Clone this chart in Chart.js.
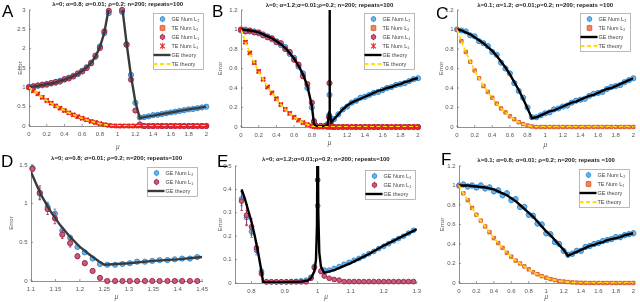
<!DOCTYPE html>
<html>
<head>
<meta charset="utf-8">
<script src="https://cdn.jsdelivr.net/npm/chart.js@4.4.1/dist/chart.umd.min.js"></script>
<style>
  html, body { margin: 0; padding: 0; background: #fff; }
  #fig { position: relative; width: 640px; height: 302px; overflow: hidden; }
  #fig canvas { position: absolute; }
  .tag { position: absolute; font: 17px 'Liberation Sans', Arial, sans-serif; line-height: 17px; color: #000; }
</style>
</head>
<body>
<div id="fig">
  <canvas id="chartA"></canvas>
  <canvas id="chartB"></canvas>
  <canvas id="chartC"></canvas>
  <canvas id="chartD"></canvas>
  <canvas id="chartE"></canvas>
  <canvas id="chartF"></canvas>
  <div class="tag" style="left:2px;top:3px">A</div>
  <div class="tag" style="left:212px;top:3px">B</div>
  <div class="tag" style="left:436px;top:5px">C</div>
  <div class="tag" style="left:1px;top:153px">D</div>
  <div class="tag" style="left:217px;top:153px">E</div>
  <div class="tag" style="left:441px;top:151px">F</div>
</div>
<script>
// ---------- data ----------
const muGrid = [0,0.05,0.1,0.15,0.2,0.25,0.3,0.35,0.4,0.45,0.5,0.55,0.6,0.65,0.7,0.75,0.8,0.85,0.9,0.95,1,1.05,1.1,1.15,1.2,1.25,1.3,1.35,1.4,1.45,1.5,1.55,1.6,1.65,1.7,1.75,1.8,1.85,1.9,1.95,2];

// A: lambda=0, alpha=0.8
const geTheoryA = [1,1.02,1.04,1.06,1.08,1.1,1.13,1.16,1.2,1.24,1.29,1.35,1.42,1.51,1.63,1.8,2.04,2.42,3.05,5,null,3.1,2.15,1.3,0.62,0.2,0.23,0.25,0.27,0.29,0.31,0.33,0.35,0.37,0.39,0.41,0.43,0.45,0.46,0.48,0.5];
const teTheoryA = [1,0.91,0.83,0.74,0.66,0.59,0.52,0.46,0.4,0.34,0.29,0.24,0.2,0.16,0.12,0.09,0.06,0.035,0.015,0.004,0,0,0,0,0,0,0,0,0,0,0,0,0,0,0,0,0,0,0,0,0];
const geNumL2A = [1.01,1.03,1.04,1.05,1.09,1.1,1.12,1.17,1.2,1.25,1.3,1.34,1.43,1.52,1.64,1.79,2.06,2.4,2.92,null,null,2.95,2.12,1.32,0.6,0.22,0.23,0.25,0.28,0.29,0.31,0.33,0.35,0.37,0.39,0.41,0.43,0.44,0.46,0.48,0.5];
const geNumL1A = [1,1.02,1.05,1.07,1.07,1.11,1.14,1.15,1.21,1.23,1.28,1.36,1.41,1.5,1.62,1.82,2.02,2.45,2.98,null,null,3,2.1,1.2,0.4,0.04,0,0,0,0,0,0,0,0,0,0,0,0,0,0,0];

// B: lambda=0, alpha=1.2
const muB = [0,0.05,0.1,0.15,0.2,0.25,0.3,0.35,0.4,0.45,0.5,0.55,0.6,0.65,0.7,0.75,0.8,0.825,0.85,0.9,0.95,0.98,0.995,1,1.005,1.02,1.05,1.1,1.15,1.2,1.25,1.3,1.35,1.4,1.45,1.5,1.55,1.6,1.65,1.7,1.75,1.8,1.85,1.9,1.95,2];
const geTheoryB = [1,0.995,0.99,0.98,0.97,0.95,0.93,0.91,0.88,0.85,0.81,0.76,0.7,0.63,0.54,0.42,0.22,0.03,0.005,0.005,0.008,0.02,0.15,1.5,0.15,0.05,0.08,0.13,0.18,0.22,0.25,0.27,0.29,0.31,0.33,0.35,0.37,0.38,0.4,0.41,0.43,0.44,0.46,0.47,0.49,0.5];
const teTheoryB = [1,0.87,0.76,0.66,0.57,0.49,0.41,0.35,0.29,0.23,0.18,0.14,0.1,0.07,0.045,0.025,0.01,0.004,0,0,0,0,0,0,0,0,0,0,0,0,0,0,0,0,0,0,0,0,0,0,0,0,0,0,0,0];
const geNumL2B = [0.99,1,0.98,0.98,0.96,0.95,0.93,0.9,0.88,0.84,0.82,0.75,0.71,0.62,0.55,0.4,0.2,0.05,0.01,0.01,0.01,0.03,0.12,0.33,0.1,0.05,0.08,0.13,0.18,0.21,0.25,0.27,0.3,0.31,0.33,0.35,0.36,0.38,0.4,0.41,0.43,0.44,0.45,0.47,0.49,0.5];
const geNumL1B = [1,0.98,0.99,0.97,0.97,0.94,0.92,0.91,0.87,0.86,0.8,0.77,0.69,0.64,0.52,0.44,0.25,0.06,0.01,0.01,0.01,0.02,0.1,0.45,0.05,0.01,0,0,0,0,0,0,0,0,0,0,0,0,0,0,0,0,0,0,0,0];

// C: lambda=0.1, alpha=1.2
const geTheoryC = [1,0.99,0.97,0.95,0.92,0.89,0.86,0.82,0.78,0.73,0.67,0.61,0.54,0.46,0.38,0.29,0.19,0.09,0.1,0.12,0.14,0.16,0.17,0.19,0.21,0.23,0.25,0.26,0.28,0.3,0.32,0.33,0.35,0.37,0.39,0.4,0.42,0.44,0.46,0.48,0.5];
const teTheoryC = [1,0.88,0.77,0.67,0.58,0.5,0.42,0.36,0.3,0.24,0.19,0.15,0.11,0.08,0.05,0.03,0.015,0.005,0,0,0,0,0,0,0,0,0,0,0,0,0,0,0,0,0,0,0,0,0,0,0];
const geNumL2C = [1,0.99,0.98,0.94,0.93,0.88,0.86,0.83,0.77,0.74,0.66,0.6,0.55,0.45,0.37,0.3,0.2,0.1,0.1,0.12,0.14,0.15,0.18,0.19,0.21,0.22,0.25,0.27,0.28,0.29,0.32,0.34,0.35,0.36,0.39,0.41,0.42,0.43,0.46,0.48,0.5];

// D: zoom of A around the kink
const muD = [1.103,1.118,1.134,1.149,1.164,1.18,1.195,1.21,1.226,1.241,1.256,1.272,1.287,1.302,1.317,1.333,1.348,1.363,1.379,1.394,1.409,1.425,1.44];
const geNumL2D = [1.46,1.13,0.96,0.87,0.65,0.56,0.44,0.37,0.29,0.22,0.21,0.21,0.22,0.23,0.25,0.25,0.26,0.27,0.27,0.28,0.29,0.29,0.31];
const geNumL1D = [1.45,1.14,0.93,0.81,0.6,0.49,0.32,0.23,0.13,0.04,0,0,0,0,0,0,0,0,0,0,0,0,0];
const errL2D = [0.04,0.07,0.06,0.06,0.04,0.03,0.02,0.01,0.01,0.01,0.01,0.01,0.01,0.01,0.01,0.01,0.01,0.01,0.01,0.01,0.01,0.01,0.01];
const errL1D = [0.03,0.09,0.07,0.07,0.05,0.05,0.03,0.03,0.02,0.015,0.005,0.005,0.005,0.005,0.005,0.005,0.005,0.005,0.005,0.005,0.005,0.005,0.005];
const muDLine = [1.1,1.12,1.14,1.16,1.18,1.2,1.22,1.24,1.25,1.3,1.35,1.4,1.45];
const geTheoryD = [1.41,1.12,0.9,0.72,0.57,0.44,0.34,0.25,0.21,0.23,0.26,0.28,0.31];

// E: zoom of B around mu=1
const muE = [0.77,0.785,0.8,0.815,0.83,0.845,0.86,0.875,0.89,0.905,0.92,0.935,0.95,0.965,0.98,0.99,1,1.01,1.02,1.035,1.05,1.065,1.08,1.095,1.11,1.125,1.14,1.155,1.17,1.185,1.2,1.215,1.23,1.245,1.26,1.275,1.29];
const geNumL2E = [0.36,0.28,0.22,0.14,0.05,0.005,0.005,0.005,0.005,0.005,0.006,0.007,0.009,0.012,0.025,0.07,0.33,0.05,0.055,0.055,0.062,0.07,0.08,0.088,0.097,0.105,0.115,0.125,0.135,0.147,0.157,0.168,0.18,0.19,0.2,0.213,0.225];
const geNumL1E = [0.35,0.29,0.24,0.15,0.04,0.005,0.005,0.005,0.005,0.005,0.005,0.005,0.005,0.005,0.02,0.065,0.44,0.05,0.03,0.02,0.015,0.012,0.006,0.006,0.006,0.006,0.006,0.006,0.006,0.006,0.006,0.006,0.006,0.006,0.006,0.006,0.006];
const errL2E = [0.03,0.03,0.025,0.02,0.01,0.003,0.003,0.003,0.003,0.003,0.003,0.003,0.003,0.003,0.005,0.01,0.02,0.01,0.004,0.004,0.004,0.004,0.004,0.004,0.004,0.004,0.004,0.004,0.004,0.004,0.004,0.004,0.004,0.004,0.004,0.004,0.004];
const errL1E = [0.04,0.045,0.035,0.02,0.01,0.003,0.003,0.003,0.003,0.003,0.003,0.003,0.003,0.003,0.005,0.01,0.03,0.01,0.004,0.004,0.004,0.004,0.004,0.004,0.004,0.004,0.004,0.004,0.004,0.004,0.004,0.004,0.004,0.004,0.004,0.004,0.004];
const muELine = [0.77,0.78,0.79,0.8,0.81,0.82,0.83,0.835,0.85,0.9,0.95,0.97,0.98,0.99,0.995,0.998,1,1.002,1.005,1.01,1.02,1.05,1.1,1.15,1.2,1.25,1.3];
const geTheoryE = [0.4,0.36,0.31,0.26,0.2,0.13,0.05,0.002,0.002,0.003,0.006,0.01,0.02,0.05,0.1,0.25,0.8,0.3,0.13,0.07,0.043,0.055,0.085,0.12,0.16,0.195,0.23];

// F: lambda=0.1, alpha=0.8
const geTheoryF = [1,1,1,0.995,0.99,0.985,0.98,0.97,0.96,0.94,0.92,0.9,0.87,0.84,0.8,0.76,0.72,0.68,0.63,0.58,0.53,0.49,0.44,0.39,0.34,0.28,0.3,0.32,0.34,0.36,0.38,0.39,0.41,0.42,0.44,0.45,0.46,0.47,0.49,0.5,0.51];
const teTheoryF = [1,0.92,0.85,0.77,0.7,0.64,0.58,0.52,0.46,0.41,0.36,0.31,0.27,0.23,0.2,0.17,0.14,0.11,0.09,0.07,0.055,0.04,0.03,0.02,0.015,0.01,0.006,0.004,0.002,0.001,0,0,0,0,0,0,0,0,0,0,0];
const geNumL2F = [1,1.01,0.99,1,0.98,1,0.97,0.98,0.94,0.95,0.9,0.92,0.85,0.86,0.78,0.78,0.7,0.69,0.61,0.6,0.51,0.5,0.42,0.4,0.33,0.29,0.3,0.33,0.33,0.37,0.38,0.4,0.41,0.43,0.44,0.45,0.47,0.47,0.49,0.5,0.51];

// ticks
const xTicks02 = [0,0.2,0.4,0.6,0.8,1,1.2,1.4,1.6,1.8,2];
const yTicksA = [0,0.5,1,1.5,2,2.5,3];
const yTicks12 = [0,0.2,0.4,0.6,0.8,1,1.2];
const xTicksD = [1.1,1.15,1.2,1.25,1.3,1.35,1.4,1.45];
const yTicksD = [0,0.5,1,1.5];
const xTicksE = [0.8,0.9,1,1.1,1.2,1.3];
const yTicksE = [0,0.1,0.2,0.3,0.4,0.5];

// ---------- styling ----------
const FONT = "'Liberation Sans', Arial, sans-serif";
const AXIS = '#737373';
const TICK = '#555';

const STYLE = {
  geL2: { pointStyle: 'circle', pointRadius: 2.6, borderColor: '#2f8ad2', backgroundColor: '#6fb4ea', borderWidth: 0.9 },
  teL2: { pointStyle: 'rect', pointRadius: 2.4, borderColor: '#d9572a', backgroundColor: '#ec8a62', borderWidth: 0.9 },
  geL1: { pointStyle: 'circle', pointRadius: 2.6, borderColor: '#a31d3f', backgroundColor: '#c0607c', borderWidth: 0.9 },
  teL1: { pointStyle: 'crossRot', pointRadius: 3, borderColor: '#ec1c1c', backgroundColor: '#ec1c1c', borderWidth: 1.5 }
};

function pts(xs, ys) {
  return xs.map((x, i) => ({ x: x, y: ys[i] }));
}

function numSet(label, kind, xs, ys, err, order, radius) {
  const ds = Object.assign({}, STYLE[kind], {
    label: label, data: pts(xs, ys), showLine: false, errorBars: err,
    order: order, clip: false, pointHoverRadius: 0
  });
  if (radius) ds.pointRadius = radius;
  return ds;
}

function lineSet(label, xs, ys, color, dashed, order) {
  return {
    label: label, data: pts(xs, ys), showLine: true, isLine: true,
    pointRadius: 0, pointHoverRadius: 0, borderColor: color, backgroundColor: color,
    borderWidth: dashed ? 1.8 : 2.4, borderDash: dashed ? [4, 2.5] : [],
    spanGaps: false, order: order
  };
}

// vertical error bars, drawn just before the markers of their dataset
const errorBarPlugin = {
  id: 'errorBars',
  beforeDatasetDraw(chart, args) {
    const ds = chart.data.datasets[args.index];
    if (ds.errorBars == null) return;
    const ctx = chart.ctx;
    const y = chart.scales.y;
    ctx.save();
    ctx.strokeStyle = ds.borderColor;
    ctx.lineWidth = 0.8;
    ctx.beginPath();
    args.meta.data.forEach((el, i) => {
      const p = ds.data[i];
      if (p.y == null) return;
      const e = Array.isArray(ds.errorBars) ? ds.errorBars[i] : ds.errorBars;
      const top = y.getPixelForValue(p.y + e);
      const bot = y.getPixelForValue(p.y - e);
      ctx.moveTo(el.x, top); ctx.lineTo(el.x, bot);
      ctx.moveTo(el.x - 1.3, top); ctx.lineTo(el.x + 1.3, top);
      ctx.moveTo(el.x - 1.3, bot); ctx.lineTo(el.x + 1.3, bot);
    });
    ctx.stroke();
    ctx.restore();
  }
};

// small inward tick marks like the original axes
const innerTicks = {
  id: 'innerTicks',
  beforeDatasetsDraw(chart) {
    const { ctx, chartArea: a, scales } = chart;
    ctx.save();
    ctx.strokeStyle = AXIS;
    ctx.lineWidth = 0.7;
    ctx.beginPath();
    scales.x.ticks.forEach(t => {
      const px = scales.x.getPixelForValue(t.value);
      ctx.moveTo(px, a.bottom); ctx.lineTo(px, a.bottom - 2);
    });
    scales.y.ticks.forEach(t => {
      const py = scales.y.getPixelForValue(t.value);
      ctx.moveTo(a.left, py); ctx.lineTo(a.left + 2, py);
    });
    ctx.stroke();
    ctx.restore();
  }
};

function drawMarker(ctx, ds, x, y) {
  const r = Math.min(ds.pointRadius, 2.3);
  ctx.fillStyle = ds.backgroundColor;
  ctx.strokeStyle = ds.borderColor;
  ctx.lineWidth = Math.min(ds.borderWidth, 1.1);
  ctx.beginPath();
  if (ds.pointStyle === 'circle') {
    ctx.arc(x, y, r, 0, Math.PI * 2);
    ctx.fill(); ctx.stroke();
  } else if (ds.pointStyle === 'rect') {
    ctx.rect(x - r, y - r, 2 * r, 2 * r);
    ctx.fill(); ctx.stroke();
  } else {
    ctx.moveTo(x - r, y - r); ctx.lineTo(x + r, y + r);
    ctx.moveTo(x - r, y + r); ctx.lineTo(x + r, y - r);
    ctx.stroke();
  }
}

// legend box sitting inside the top-right corner of the plot
const insetLegend = {
  id: 'insetLegend',
  afterDraw(chart, args, opts) {
    const ctx = chart.ctx;
    const area = chart.chartArea;
    const items = chart.data.datasets.filter(d => d.label);
    const rowH = 9, w = 50;
    const left = Math.round(area.right - opts.right - w) + 0.5;
    const top = Math.round(area.top + opts.top) + 0.5;
    const h = items.length * rowH + 2;
    ctx.save();
    ctx.fillStyle = '#fff';
    ctx.fillRect(left, top, w, h);
    ctx.strokeStyle = '#a8a8a8';
    ctx.lineWidth = 0.8;
    ctx.strokeRect(left, top, w, h);
    items.forEach((ds, i) => {
      const cy = top + 1 + rowH / 2 + i * rowH;
      if (ds.isLine) {
        ctx.strokeStyle = ds.borderColor;
        ctx.lineWidth = ds.borderWidth;
        ctx.setLineDash(ds.borderDash);
        ctx.beginPath(); ctx.moveTo(left, cy); ctx.lineTo(left + 17, cy); ctx.stroke();
        ctx.setLineDash([]);
      } else {
        ctx.strokeStyle = ds.borderColor;
        ctx.lineWidth = 0.8;
        ctx.beginPath(); ctx.moveTo(left + 9, cy - 3.2); ctx.lineTo(left + 9, cy + 3.2); ctx.stroke();
        drawMarker(ctx, ds, left + 9, cy);
      }
      ctx.fillStyle = '#444';
      ctx.font = '5.5px ' + FONT;
      ctx.textBaseline = 'middle';
      ctx.fillText(ds.label, left + 18, cy);
    });
    ctx.restore();
  }
};

function makeChart(p) {
  const [cx, cy, cw, ch] = p.box;
  const [al, at, ar, ab] = p.area;
  const canvas = document.getElementById(p.id);
  canvas.width = cw; canvas.height = ch;
  canvas.style.left = cx + 'px'; canvas.style.top = cy + 'px';
  canvas.style.width = cw + 'px'; canvas.style.height = ch + 'px';
  const yW = al - cx;
  const xH = cy + ch - ab;
  const tTop = p.titleY - cy - 3.6;
  const tBottom = (at - cy) - 7.2 - tTop;
  const tickFont = { family: FONT, size: 6 };
  return new Chart(canvas, {
    type: 'scatter',
    data: { datasets: p.datasets },
    options: {
      responsive: false,
      animation: false,
      devicePixelRatio: 1,
      events: [],
      layout: { padding: { left: 0, right: cx + cw - ar, top: 0, bottom: 0 } },
      plugins: {
        legend: { display: false },
        tooltip: { enabled: false },
        title: {
          display: true, text: p.title, fullSize: false, color: '#1a1a1a',
          font: { family: FONT, size: 6, weight: 'bold', lineHeight: 1.2 },
          padding: { top: tTop, bottom: tBottom }
        },
        insetLegend: p.legend
      },
      scales: {
        x: {
          type: 'linear', min: p.xRange[0], max: p.xRange[1],
          afterFit: s => { s.height = xH; },
          afterBuildTicks: s => { s.ticks = p.xTicks.map(v => ({ value: v })); },
          grid: { display: false, drawTicks: false },
          border: { color: AXIS, width: 0.8 },
          ticks: { padding: 5, color: TICK, font: tickFont, autoSkip: false, maxRotation: 0, callback: v => String(v) },
          title: {
            display: true, text: 'μ', color: TICK,
            font: { family: FONT, size: 6.5, style: 'italic', lineHeight: 1.2 },
            padding: { top: 0, bottom: Math.max(0, xH - (p.muY - ab) - 3.9) }
          }
        },
        y: {
          type: 'linear', min: p.yRange[0], max: p.yRange[1],
          afterFit: s => { s.width = yW; },
          afterBuildTicks: s => { s.ticks = p.yTicks.map(v => ({ value: v })); },
          grid: { display: false, drawTicks: false },
          border: { color: AXIS, width: 0.8 },
          ticks: { padding: 3.5, color: TICK, font: tickFont, autoSkip: false, callback: v => String(v) },
          title: {
            display: true, text: 'Error', color: TICK,
            font: { family: FONT, size: 6, lineHeight: 1.2 },
            padding: { top: p.errX - cx - 3.6, bottom: 0 }
          }
        }
      }
    },
    plugins: [errorBarPlugin, innerTicks, insetLegend]
  });
}

const L2 = 'GE Num L\u2082', T2 = 'TE Num L\u2082', L1 = 'GE Num L\u2081', T1 = 'TE Num L\u2081';

makeChart({
  id: 'chartA', box: [0, 0, 213, 151], area: [29, 10, 207, 126],
  titleY: 4.5, errX: 20, muY: 146.7,
  title: 'λ=0; α=0.8; σ=0.01; ρ=0.2; n=200; repeats=100',
  xRange: [0, 2], yRange: [0, 3], xTicks: xTicks02, yTicks: yTicksA,
  legend: { right: 3, top: 3 },
  datasets: [
    numSet(L2, 'geL2', muGrid, geNumL2A, 0.05, 5),
    numSet(T2, 'teL2', muGrid, teTheoryA, 0.02, 4),
    numSet(L1, 'geL1', muGrid, geNumL1A, 0.05, 3),
    numSet(T1, 'teL1', muGrid, teTheoryA, 0.02, 2),
    lineSet('GE theory', muGrid, geTheoryA, '#3a3a3a', false, 1),
    lineSet('TE theory', muGrid, teTheoryA, '#ffe100', true, 0)
  ]
});

makeChart({
  id: 'chartB', box: [213, 0, 213, 151], area: [241, 10, 418, 127],
  titleY: 5, errX: 220.7, muY: 142.7,
  title: 'λ=0; α=1.2;σ=0.01;ρ=0.2; n=200; repeats=100',
  xRange: [0, 2], yRange: [0, 1.2], xTicks: xTicks02, yTicks: yTicks12,
  legend: { right: 4, top: 3 },
  datasets: [
    numSet(L2, 'geL2', muB, geNumL2B, 0.02, 5),
    numSet(T2, 'teL2', muB, teTheoryB, 0.01, 4),
    numSet(L1, 'geL1', muB, geNumL1B, 0.02, 3),
    numSet(T1, 'teL1', muB, teTheoryB, 0.01, 2),
    lineSet('GE theory', muB, geTheoryB, '#000', false, 1),
    lineSet('TE theory', muB, teTheoryB, '#ffe100', true, 0)
  ]
});

makeChart({
  id: 'chartC', box: [426, 0, 214, 151], area: [457, 10, 636, 127],
  titleY: 5, errX: 441.7, muY: 145,
  title: 'λ=0.1; α=1.2; σ=0.01;ρ=0.2; n=200; repeats =100',
  xRange: [0, 2], yRange: [0, 1.2], xTicks: xTicks02, yTicks: yTicks12,
  legend: { right: 3, top: 3 },
  datasets: [
    numSet(L2, 'geL2', muGrid, geNumL2C, 0.015, 5),
    numSet(T2, 'teL2', muGrid, teTheoryC, 0.01, 4),
    lineSet('GE theory', muGrid, geTheoryC, '#000', false, 1),
    lineSet('TE theory', muGrid, teTheoryC, '#ffe100', true, 0)
  ]
});

makeChart({
  id: 'chartD', box: [0, 151, 213, 151], area: [31, 165, 209, 281],
  titleY: 158.3, errX: 11.7, muY: 296.7,
  title: 'λ=0; α=0.8; σ=0.01; ρ=0.2; n=200; repeats=100',
  xRange: [1.1, 1.45], yRange: [0, 1.5], xTicks: xTicksD, yTicks: yTicksD,
  legend: { right: 5, top: 2 },
  datasets: [
    numSet(L2, 'geL2', muD, geNumL2D, errL2D, 5, 2.6),
    numSet(L1, 'geL1', muD, geNumL1D, errL1D, 3, 2.6),
    lineSet('GE theory', muDLine, geTheoryD, '#3a3a3a', false, 1)
  ]
});

makeChart({
  id: 'chartE', box: [213, 151, 213, 151], area: [235, 166, 420, 283],
  titleY: 159.3, errX: 220.7, muY: 296.7,
  title: 'λ=0; α=1.2;σ=0.01;ρ=0.2; n=200; repeats=100',
  xRange: [0.75, 1.3], yRange: [0, 0.5], xTicks: xTicksE, yTicks: yTicksE,
  legend: { right: 2, top: 4 },
  datasets: [
    numSet(L2, 'geL2', muE, geNumL2E, errL2E, 5, 2.4),
    numSet(L1, 'geL1', muE, geNumL1E, errL1E, 3, 2.4),
    lineSet('GE theory', muELine, geTheoryE, '#000', false, 1)
  ]
});

makeChart({
  id: 'chartF', box: [426, 151, 214, 151], area: [459, 166, 637, 283],
  titleY: 160, errX: 442.7, muY: 296.7,
  title: 'λ=0.1; α=0.8; σ=0.01; ρ=0.2; n=200; repeats =100',
  xRange: [0, 2], yRange: [0, 1.2], xTicks: xTicks02, yTicks: yTicks12,
  legend: { right: 4, top: 2.5 },
  datasets: [
    numSet(L2, 'geL2', muGrid, geNumL2F, 0.025, 5),
    numSet(T2, 'teL2', muGrid, teTheoryF, 0.01, 4),
    lineSet('GE theory', muGrid, geTheoryF, '#000', false, 1),
    lineSet('TE theory', muGrid, teTheoryF, '#ffe100', true, 0)
  ]
});
</script>
</body>
</html>
